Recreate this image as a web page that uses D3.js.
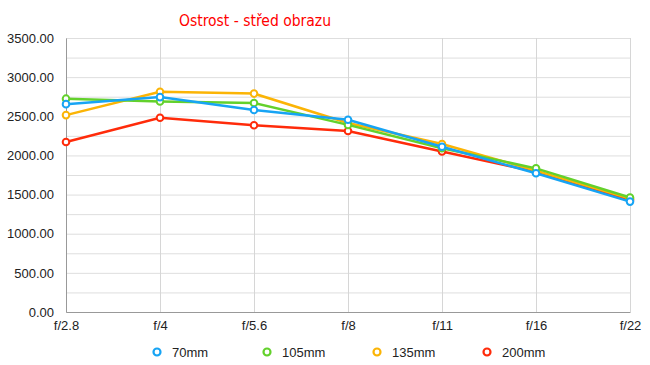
<!DOCTYPE html>
<html>
<head>
<meta charset="utf-8">
<script src="https://cdn.jsdelivr.net/npm/d3@7"></script>
<style>
  body { margin: 0; background: #fff; }
  text { font-family: "Liberation Sans", Arial, sans-serif; }
</style>
</head>
<body>
<div id="chart"></div>
<script>
// data
const apertures = ['f/2.8', 'f/4', 'f/5.6', 'f/8', 'f/11', 'f/16', 'f/22'];
const lenses = ['70mm', '105mm', '135mm', '200mm'];
const colors = ['#17a4f4', '#63d12c', '#fbb405', '#ff2b0a'];
const s70  = [2655, 2745, 2580, 2455, 2110, 1772, 1410];
const s105 = [2725, 2690, 2670, 2390, 2092, 1835, 1462];
const s135 = [2515, 2814, 2790, 2415, 2146, 1805, 1448];
const s200 = [2172, 2482, 2385, 2312, 2050, 1790, 1432];
const yTicks = d3.range(0, 3501, 500);
const yGrid = d3.range(0, 3501, 250);

const width = 650, height = 365;
const margin = [38, 20, 53, 66]; // top, right, bottom, left

const svg = d3.select('#chart').append('svg')
    .attr('width', width).attr('height', height);

const scaleX = d3.scalePoint(apertures, [margin[3], width - margin[1]]);
const scaleY = d3.scaleLinear([0, 3500], [height - margin[2], margin[0]]);

// title
svg.append('text')
    .attr('x', 255).attr('y', 26)
    .attr('text-anchor', 'middle')
    .style('font-family', '"DejaVu Sans Condensed", "DejaVu Sans", sans-serif')
    .style('font-stretch', 'condensed')
    .style('font-size', '15.5px')
    .attr('fill', '#ff0000')
    .text('Ostrost - střed obrazu');

// grid
const grid = svg.append('g');
grid.selectAll('line.h').data(yGrid).join('line')
    .attr('x1', margin[3]).attr('x2', width - margin[1])
    .attr('y1', d => scaleY(d) + 0.5).attr('y2', d => scaleY(d) + 0.5)
    .attr('stroke', '#dedede');
grid.selectAll('line.v').data(apertures).join('line')
    .attr('x1', d => scaleX(d) + 0.5).attr('x2', d => scaleX(d) + 0.5)
    .attr('y1', margin[0]).attr('y2', height - margin[2])
    .attr('stroke', '#d6d6d6');

// axes
const axisY = svg.append('g')
    .attr('transform', `translate(${margin[3]},0)`)
    .call(d3.axisLeft(scaleY).tickValues(yTicks).tickFormat(d3.format('.2f')).tickSize(0).tickPadding(12));
axisY.select('.domain').attr('stroke', '#999');
axisY.selectAll('text').style('font-size', '13px').attr('fill', '#222');

const axisX = svg.append('g')
    .attr('transform', `translate(0,${height - margin[2]})`)
    .call(d3.axisBottom(scaleX).tickSize(0).tickPadding(9));
axisX.select('.domain').attr('stroke', '#999');
axisX.selectAll('text').style('font-size', '13px').attr('fill', '#222');

// series
const series = [s70, s105, s135, s200];
const line = d3.line().x((d, i) => scaleX(apertures[i])).y(d => scaleY(d));
const order = [3, 2, 1, 0];
order.forEach(k => {
    const g = svg.append('g');
    g.append('path')
        .datum(series[k])
        .attr('d', line)
        .attr('fill', 'none')
        .attr('stroke', colors[k])
        .attr('stroke-width', 2.5);
    g.selectAll('circle').data(series[k]).join('circle')
        .attr('cx', (d, i) => scaleX(apertures[i]))
        .attr('cy', d => scaleY(d))
        .attr('r', 3.3)
        .attr('fill', '#fff')
        .attr('stroke', colors[k])
        .attr('stroke-width', 2);
});

// legend
const legend = svg.append('g').attr('transform', 'translate(157,352)');
const items = legend.selectAll('g').data(lenses).join('g')
    .attr('transform', (d, i) => `translate(${i * 110},0)`);
items.append('circle')
    .attr('r', 3.5).attr('fill', '#fff')
    .attr('stroke', (d, i) => colors[i]).attr('stroke-width', 2.2);
items.append('text')
    .attr('x', 15).attr('dy', '0.35em')
    .style('font-size', '13px').attr('fill', '#222')
    .text(d => d);
</script>
</body>
</html>
